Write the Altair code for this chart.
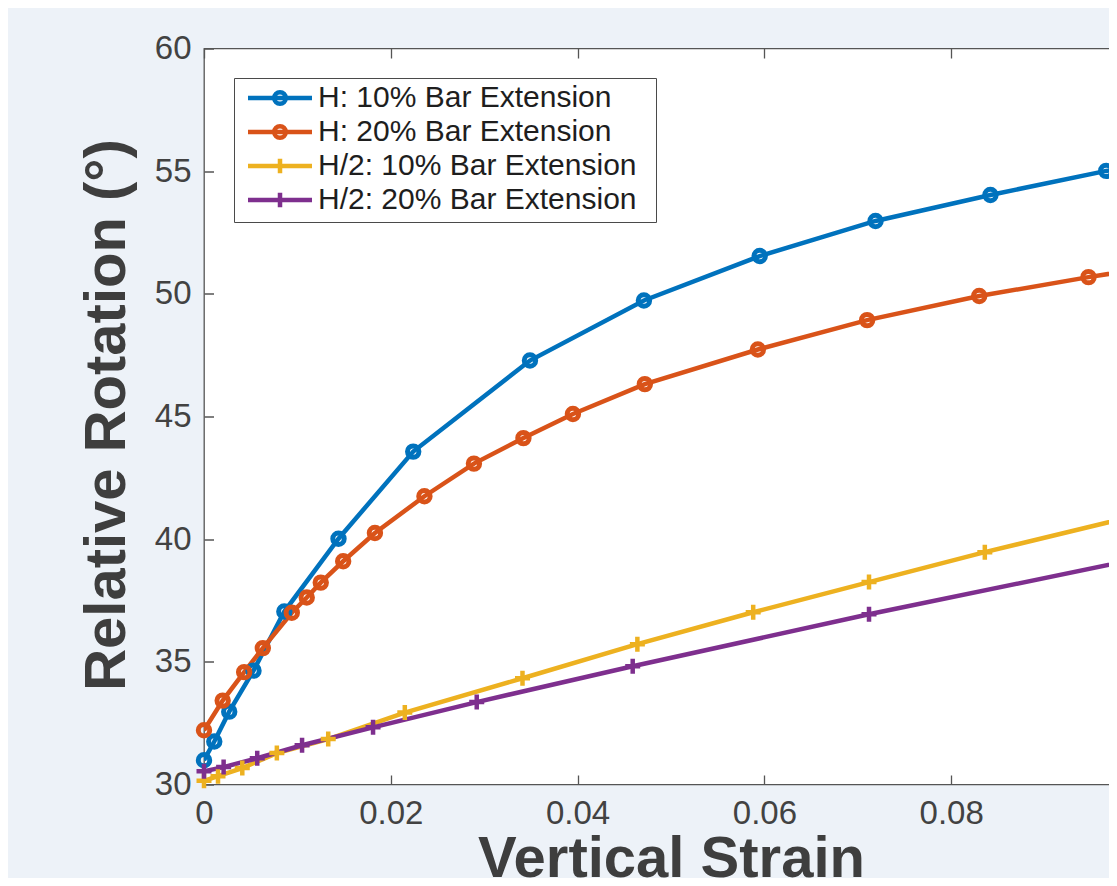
import altair as alt
import pandas as pd

SERIES = ["H: 10% Bar Extension", "H: 20% Bar Extension",
          "H/2: 10% Bar Extension", "H/2: 20% Bar Extension"]
COLORS = ["#0072BD", "#D95319", "#EDB120", "#7E2F8E"]

h10_strain = [0, 0.0011, 0.0027, 0.0053, 0.0086, 0.0144, 0.0224, 0.0349, 0.0471,
              0.0595, 0.0719, 0.0842, 0.0966, 0.1089]
h10_rot = [30.99, 31.75, 32.97, 34.64, 37.05, 40.02, 43.57, 47.28, 49.73,
           51.54, 52.97, 54.03, 55.01, 55.85]

h20_strain = [0, 0.0020, 0.0043, 0.0063, 0.0094, 0.0110, 0.0125, 0.0149, 0.0183,
              0.0236, 0.0289, 0.0342, 0.0395, 0.0472, 0.0593, 0.0710, 0.0830,
              0.0947, 0.1065]
h20_rot = [32.21, 33.42, 34.58, 35.56, 37.00, 37.62, 38.23, 39.10, 40.25,
           41.75, 43.08, 44.12, 45.10, 46.32, 47.73, 48.93, 49.91, 50.68, 51.40]

h2_10_strain = [0, 0.0015, 0.0041, 0.0078, 0.0133, 0.0215, 0.0341, 0.0464, 0.0588,
                0.0712, 0.0836, 0.1000]
h2_10_rot = [30.15, 30.34, 30.67, 31.28, 31.85, 32.93, 34.33, 35.72, 37.02,
             38.25, 39.47, 40.98]

h2_20_strain = [0, 0.0021, 0.0057, 0.0105, 0.0181, 0.0292, 0.0459, 0.0712, 0.1000]
h2_20_rot = [30.54, 30.71, 31.07, 31.60, 32.33, 33.36, 34.82, 36.94, 39.20]

X_TICKS = [0, 0.02, 0.04, 0.06, 0.08, 0.1]
Y_TICKS = [30, 35, 40, 45, 50, 55, 60]

rows = []
for name, xs, ys in zip(SERIES,
                        [h10_strain, h20_strain, h2_10_strain, h2_20_strain],
                        [h10_rot, h20_rot, h2_10_rot, h2_20_rot]):
    for i, (a, b) in enumerate(zip(xs, ys)):
        rows.append({"series": name, "strain": a, "rot": b, "idx": i})
df = pd.DataFrame(rows)

FONT = "Liberation Sans"
AXIS_C = "#555555"

# legend symbols: line segment with the marker on it (unit = 8 px);
# the leading moves give both symbols the same vertical extent
CIRCLE_LEG = ("M0,-0.9M0,0.9M-4,0H4"
              "M-0.72,0A0.72,0.72,0,1,0,0.72,0A0.72,0.72,0,1,0,-0.72,0")
PLUS_LEG = "M-4,0H4M0,-0.9V0.9"
PLUS = "M-1,0H1M0,-1V1"

xscale = alt.Scale(domain=[0, 0.1], nice=False, zero=False)
yscale = alt.Scale(domain=[30, 60], nice=False, zero=False)
# stroke scale for the drawn marks (domain order differs from the legend's scale
# so that the hidden stroke legend is never merged with the visible one)
sscale = alt.Scale(domain=SERIES[::-1], range=COLORS[::-1])

x_axis = alt.Axis(values=X_TICKS, format="~g", labelFlush=False, labelOverlap=False,
                  labelPadding=13.3, title="Vertical Strain", titleX=467, titleY=92.2,
                  titleAlign="center", titleBaseline="alphabetic",
                  grid=True, gridDash=[9.5, 717, 9.5, 100])
y_axis = alt.Axis(values=Y_TICKS, labelFlush=False, labelOverlap=False, labelPadding=13,
                  title="Relative Rotation (°)", titleX=-97, titleY=366, titleAngle=270,
                  titleAlign="center", titleBaseline="middle",
                  grid=True, gridDash=[9.5, 915, 9.5, 100])

X = alt.X("strain:Q", scale=xscale, axis=x_axis)
Y = alt.Y("rot:Q", scale=yscale, axis=y_axis)
S = alt.Stroke("series:N", scale=sscale, legend=None)

base = alt.Chart(df)

leg = dict(orient="none", legendX=30, legendY=29.5, title=None,
           symbolSize=256, symbolStrokeWidth=4.5, symbolOffset=26, labelOffset=23,
           labelFont=FONT, labelFontSize=30, labelColor="#1e1e1e", labelLimit=1000,
           labelExpr="datum.label + '\u00a0\u2009\u200b'",
           fillColor="white", strokeColor="#4a4a4a", padding=5, rowPadding=0,
           symbolOpacity=1)

legend_layer = base.transform_filter("datum.rot > 1000").mark_point(
    filled=False, opacity=1
).encode(
    x=X, y=Y,
    color=alt.Color("series:N", scale=alt.Scale(domain=SERIES, range=COLORS),
                    legend=alt.Legend(**leg)),
    shape=alt.Shape("series:N",
                    scale=alt.Scale(domain=SERIES,
                                    range=[CIRCLE_LEG, CIRCLE_LEG, PLUS_LEG, PLUS_LEG]),
                    legend=alt.Legend(**leg)),
)

lines = base.mark_line(strokeWidth=4.5, clip=True).encode(
    x=X, y=Y, stroke=S, detail="series:N", order="idx:Q",
)

circles = base.transform_filter(
    alt.FieldOneOfPredicate(field="series", oneOf=SERIES[:2])
).mark_point(shape="circle", size=130, filled=False, strokeWidth=5, opacity=1).encode(
    x=X, y=Y, stroke=S
)

pluses = base.transform_filter(
    alt.FieldOneOfPredicate(field="series", oneOf=SERIES[2:])
).mark_point(shape=PLUS, size=225, filled=False, strokeWidth=4.5, opacity=1).encode(
    x=X, y=Y, stroke=S
)

chart = alt.layer(legend_layer, lines, circles, pluses).properties(
    width=934, height=736,
    padding={"left": 196, "top": 40.5, "right": -29, "bottom": 93.5},
    autosize=alt.AutoSizeParams(type="none"),
    background="#edf2f8",
).configure_view(
    fill="white", stroke=AXIS_C, strokeWidth=1.3,
).configure_axis(
    labelFont=FONT, labelFontSize=33, labelColor="#424242",
    titleFont=FONT, titleFontSize=58, titleFontWeight="bold", titleColor="#3e3e3e",
    domain=False, ticks=False, gridColor=AXIS_C, gridWidth=1.3, gridOpacity=1,
)

chart.save("out.html", embed_options={"renderer": "svg", "actions": False})
